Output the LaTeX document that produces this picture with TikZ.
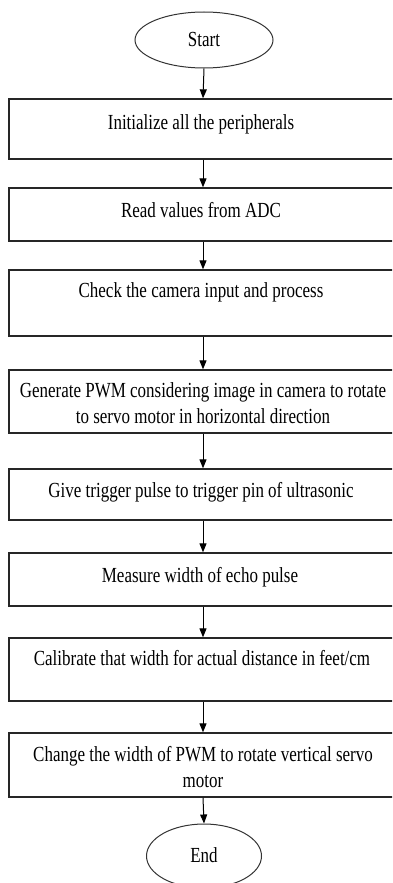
\documentclass[tikz,border=0pt]{standalone}
\usepackage{fontspec}
\setmainfont[FakeStretch=0.79]{Liberation Serif}
\usetikzlibrary{arrows.meta,shapes.geometric}
\tikzset{
  stepbox/.style={draw=black!85, line width=1.3pt, rectangle, minimum width=388pt, inner sep=0pt},
  term/.style={draw=black!80, line width=1pt, ellipse, inner sep=0pt},
  txt/.style={inner sep=0pt, align=center, anchor=base, font=\fontsize{21.5}{26}\selectfont},
  flow/.style={draw=black, line width=1pt, -{Triangle[width=7pt,length=9pt]}}
}
\begin{document}
\begin{tikzpicture}[x=1pt,y=-1pt]
\useasboundingbox (0,0) rectangle (392,883);
\clip (0,0) rectangle (392,883);
% terminals
\node[term, minimum width=138pt, minimum height=56pt] (start) at (204,40) {};
\node[txt] (ts) at (204,47) {Start};
\node[term, minimum width=115pt, minimum height=64pt] (end) at (204,856) {};
\node[txt] (te) at (204,862) {End};
% boxes
\node[stepbox, minimum height=60pt] (b1) at (203,129) {};
\node[txt] (t1) at (201,129) {Initialize all the peripherals};
\node[stepbox, minimum height=53pt] (b2) at (203,214.5) {};
\node[txt] (t2) at (201,217) {Read values from ADC};
\node[stepbox, minimum height=66pt] (b3) at (203,303) {};
\node[txt] (t3) at (201,297) {Check the camera input and process};
\node[stepbox, minimum height=63pt] (b4) at (203,401.5) {};
\node[txt] (t4) at (203,423) {Generate PWM considering image in camera to rotate\\to servo motor in horizontal direction};
\node[stepbox, minimum height=51pt] (b5) at (203,494.5) {};
\node[txt] (t5) at (201,497) {Give trigger pulse to trigger pin of ultrasonic};
\node[stepbox, minimum height=53pt] (b6) at (203,579.5) {};
\node[txt] (t6) at (200,582) {Measure width of echo pulse};
\node[stepbox, minimum height=63pt] (b7) at (203,669.5) {};
\node[txt] (t7) at (202,665) {Calibrate that width for actual distance in feet/cm};
\node[stepbox, minimum height=64pt] (b8) at (203,765) {};
\node[txt] (t8) at (203,787) {Change the width of PWM to rotate vertical servo\\motor};
% connectors
\draw[flow] (start.south) -- (b1.north);
\draw[flow] (b1) -- (b2);
\draw[flow] (b2) -- (b3);
\draw[flow] (b3) -- (b4);
\draw[flow] (b4) -- (b5);
\draw[flow] (b5) -- (b6);
\draw[flow] (b6) -- (b7);
\draw[flow] (b7) -- (b8);
\draw[flow] (b8.south) -- (end.north);
\end{tikzpicture}
\end{document}
